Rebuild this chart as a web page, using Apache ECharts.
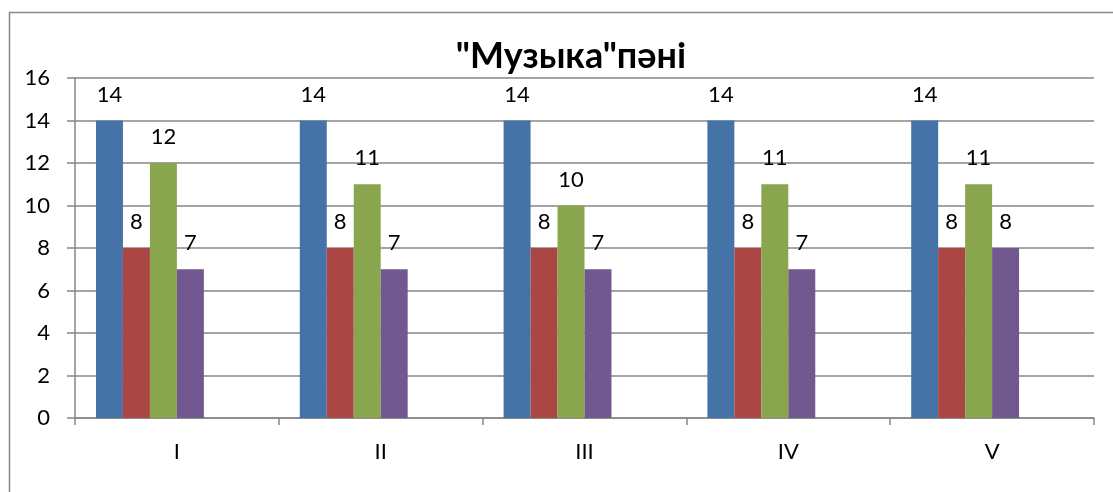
<!DOCTYPE html>
<html>
<head>
<meta charset="utf-8">
<script src="https://cdn.jsdelivr.net/npm/echarts@6/dist/echarts.min.js"></script>
<style>
html,body{margin:0;padding:0;background:#fff;}
#chart{width:1113px;height:492px;}
</style>
</head>
<body>
<div id="chart"></div>
<script>
var titleText = '"Музыка"пәні';
var categories = ['I', 'II', 'III', 'IV', 'V'];
var series1 = [14, 14, 14, 14, 14];
var series2 = [8, 8, 8, 8, 8];
var series3 = [12, 11, 10, 11, 11];
var series4 = [7, 7, 7, 7, 8];
var emptySeries = ['-', '-', '-', '-', '-'];
var yMin = 0, yMax = 16, yStep = 2;

var colors = ['#4572A7', '#AA4643', '#89A54E', '#71588F', '#4198AF', '#DB843D'];
var fontFam = 'Lato, "Liberation Sans", sans-serif';
var gray = '#868686';

function barSeries(name, data, color) {
  return {
    name: name,
    type: 'bar',
    data: data,
    barGap: '0%',
    barCategoryGap: '20.6%',
    itemStyle: { color: color },
    label: {
      show: true,
      position: 'top',
      distance: 15,
      color: '#000',
      fontFamily: fontFam,
      fontSize: 22
    },
    emphasis: { disabled: true }
  };
}

var chart = echarts.init(document.getElementById('chart'), null, { renderer: 'canvas' });
chart.setOption({
  animation: false,
  backgroundColor: '#fff',
  title: {
    text: titleText,
    left: 566,
    textAlign: 'center',
    top: 33,
    textStyle: { fontFamily: fontFam, fontWeight: 'bold', fontSize: 36, color: '#000' }
  },
  graphic: [{
    type: 'rect',
    shape: { x: 9.5, y: 12.5, width: 1300, height: 700 },
    style: { fill: 'none', stroke: gray, lineWidth: 1.5 },
    silent: true
  }],
  grid: { left: 75, right: 19, top: 78, bottom: 74 },
  xAxis: {
    type: 'category',
    data: categories,
    axisLine: { lineStyle: { color: gray, width: 1.5 } },
    axisTick: { show: true, length: 7, lineStyle: { color: gray, width: 1.5 } },
    axisLabel: { color: '#000', fontFamily: fontFam, fontSize: 22, margin: 23 },
    splitLine: { show: false }
  },
  yAxis: {
    type: 'value',
    min: yMin, max: yMax, interval: yStep,
    axisLine: { show: true, lineStyle: { color: gray, width: 1.5 } },
    axisTick: { show: true, length: 8, lineStyle: { color: gray, width: 1.5 } },
    axisLabel: { color: '#000', fontFamily: fontFam, fontSize: 22, margin: 25 },
    splitLine: { show: true, lineStyle: { color: gray, width: 1.5 } }
  },
  series: [
    barSeries('Ряд1', series1, colors[0]),
    barSeries('Ряд2', series2, colors[1]),
    barSeries('Ряд3', series3, colors[2]),
    barSeries('Ряд4', series4, colors[3]),
    barSeries('Ряд5', emptySeries, colors[4]),
    barSeries('Ряд6', emptySeries, colors[5])
  ]
});
</script>
</body>
</html>
